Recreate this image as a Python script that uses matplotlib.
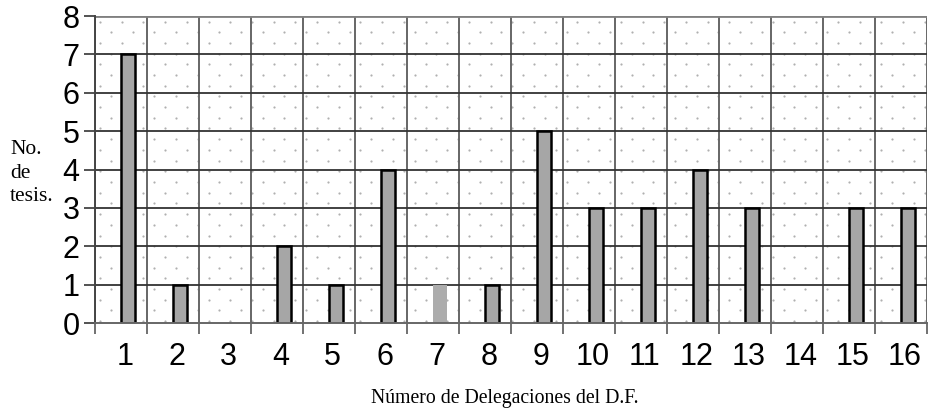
import numpy as np
import matplotlib
matplotlib.use("Agg")
import matplotlib.pyplot as plt

delegaciones = list(range(1, 17))
tesis = [7, 1, 0, 2, 1, 4, 1, 1, 5, 3, 3, 4, 3, 0, 3, 3]
y_ticks = list(range(0, 9))

W, H = 930, 415
fig = plt.figure(figsize=(W / 100, H / 100), dpi=100)
left, right, top, bottom = 95, 927, 16, 323
ax = fig.add_axes([left / W, 1 - bottom / H, (right - left) / W, (bottom - top) / H])

n = len(delegaciones)
ax.set_xlim(0.5, n + 0.5)
ax.set_ylim(0, 8)

# dotted background texture, in pixel steps
px_x = n / (right - left)
px_y = 8 / (bottom - top)
dx, dy = 21.7, 10.7
rows = np.arange(0, (bottom - top) / dy + 1)
xs, ys = [], []
for r in rows:
    off = 0 if int(r) % 2 == 0 else dx / 2
    cols = np.arange(off + 5, right - left, dx)
    xs.extend(0.5 + cols * px_x)
    ys.extend(8 - (5.5 + r * dy) * px_y * np.ones_like(cols))
ax.scatter(xs, ys, s=2.5, color="#b0b0b0", linewidths=0, zorder=0)

# grid
for k in range(n + 1):
    ax.axvline(0.5 + k, color="#666666", lw=1.4, zorder=1)
for v in y_ticks[1:]:
    ax.axhline(v, color="#333333", lw=1.3, zorder=1)
ax.axhline(8, color="#808080", lw=2, zorder=1)

colors = ["#a6a6a6"] * n
edges = ["black"] * n
colors[6] = "#acacac"
edges[6] = "none"
widths = [1.8 if t > 0 else 0 for t in tesis]
x = np.array(delegaciones, dtype=float)
ax.bar(x + 0.14, tesis, width=0.27, color=colors, edgecolor=edges, linewidth=widths, zorder=3)

for s in ["top", "right"]:
    ax.spines[s].set_visible(False)
ax.spines["left"].set_color("#444444")
ax.spines["bottom"].set_color("#666666")
ax.spines["left"].set_linewidth(1.4)
ax.spines["bottom"].set_linewidth(1.4)
ax.spines["bottom"].set_zorder(4)

ax.set_yticks(y_ticks)
ax.set_yticklabels([str(v) for v in y_ticks], fontfamily="Liberation Sans", fontsize=22)
ax.tick_params(axis="y", length=8, width=1.3, color="#444444", pad=3)

ax.set_xticks(np.arange(0.5, n + 1, 1))
ax.set_xticklabels([])
ax.tick_params(axis="x", length=8, width=1.3, color="#666666")
for d in delegaciones:
    ax.text(d + 0.07, -0.5, str(d), ha="center", va="top", fontsize=22,
            fontfamily="Liberation Sans")

fig.text(10 / W, 1 - 173 / H, "No.\nde\ntesis.", ha="left", va="center",
         fontsize=15.5, fontfamily="Liberation Serif", linespacing=1.3)
fig.text(505 / W, 1 - 398 / H, "Número de Delegaciones del D.F.", ha="center", va="center",
         fontsize=14.2, fontfamily="Liberation Serif")

fig.savefig("out.png", dpi=100)
